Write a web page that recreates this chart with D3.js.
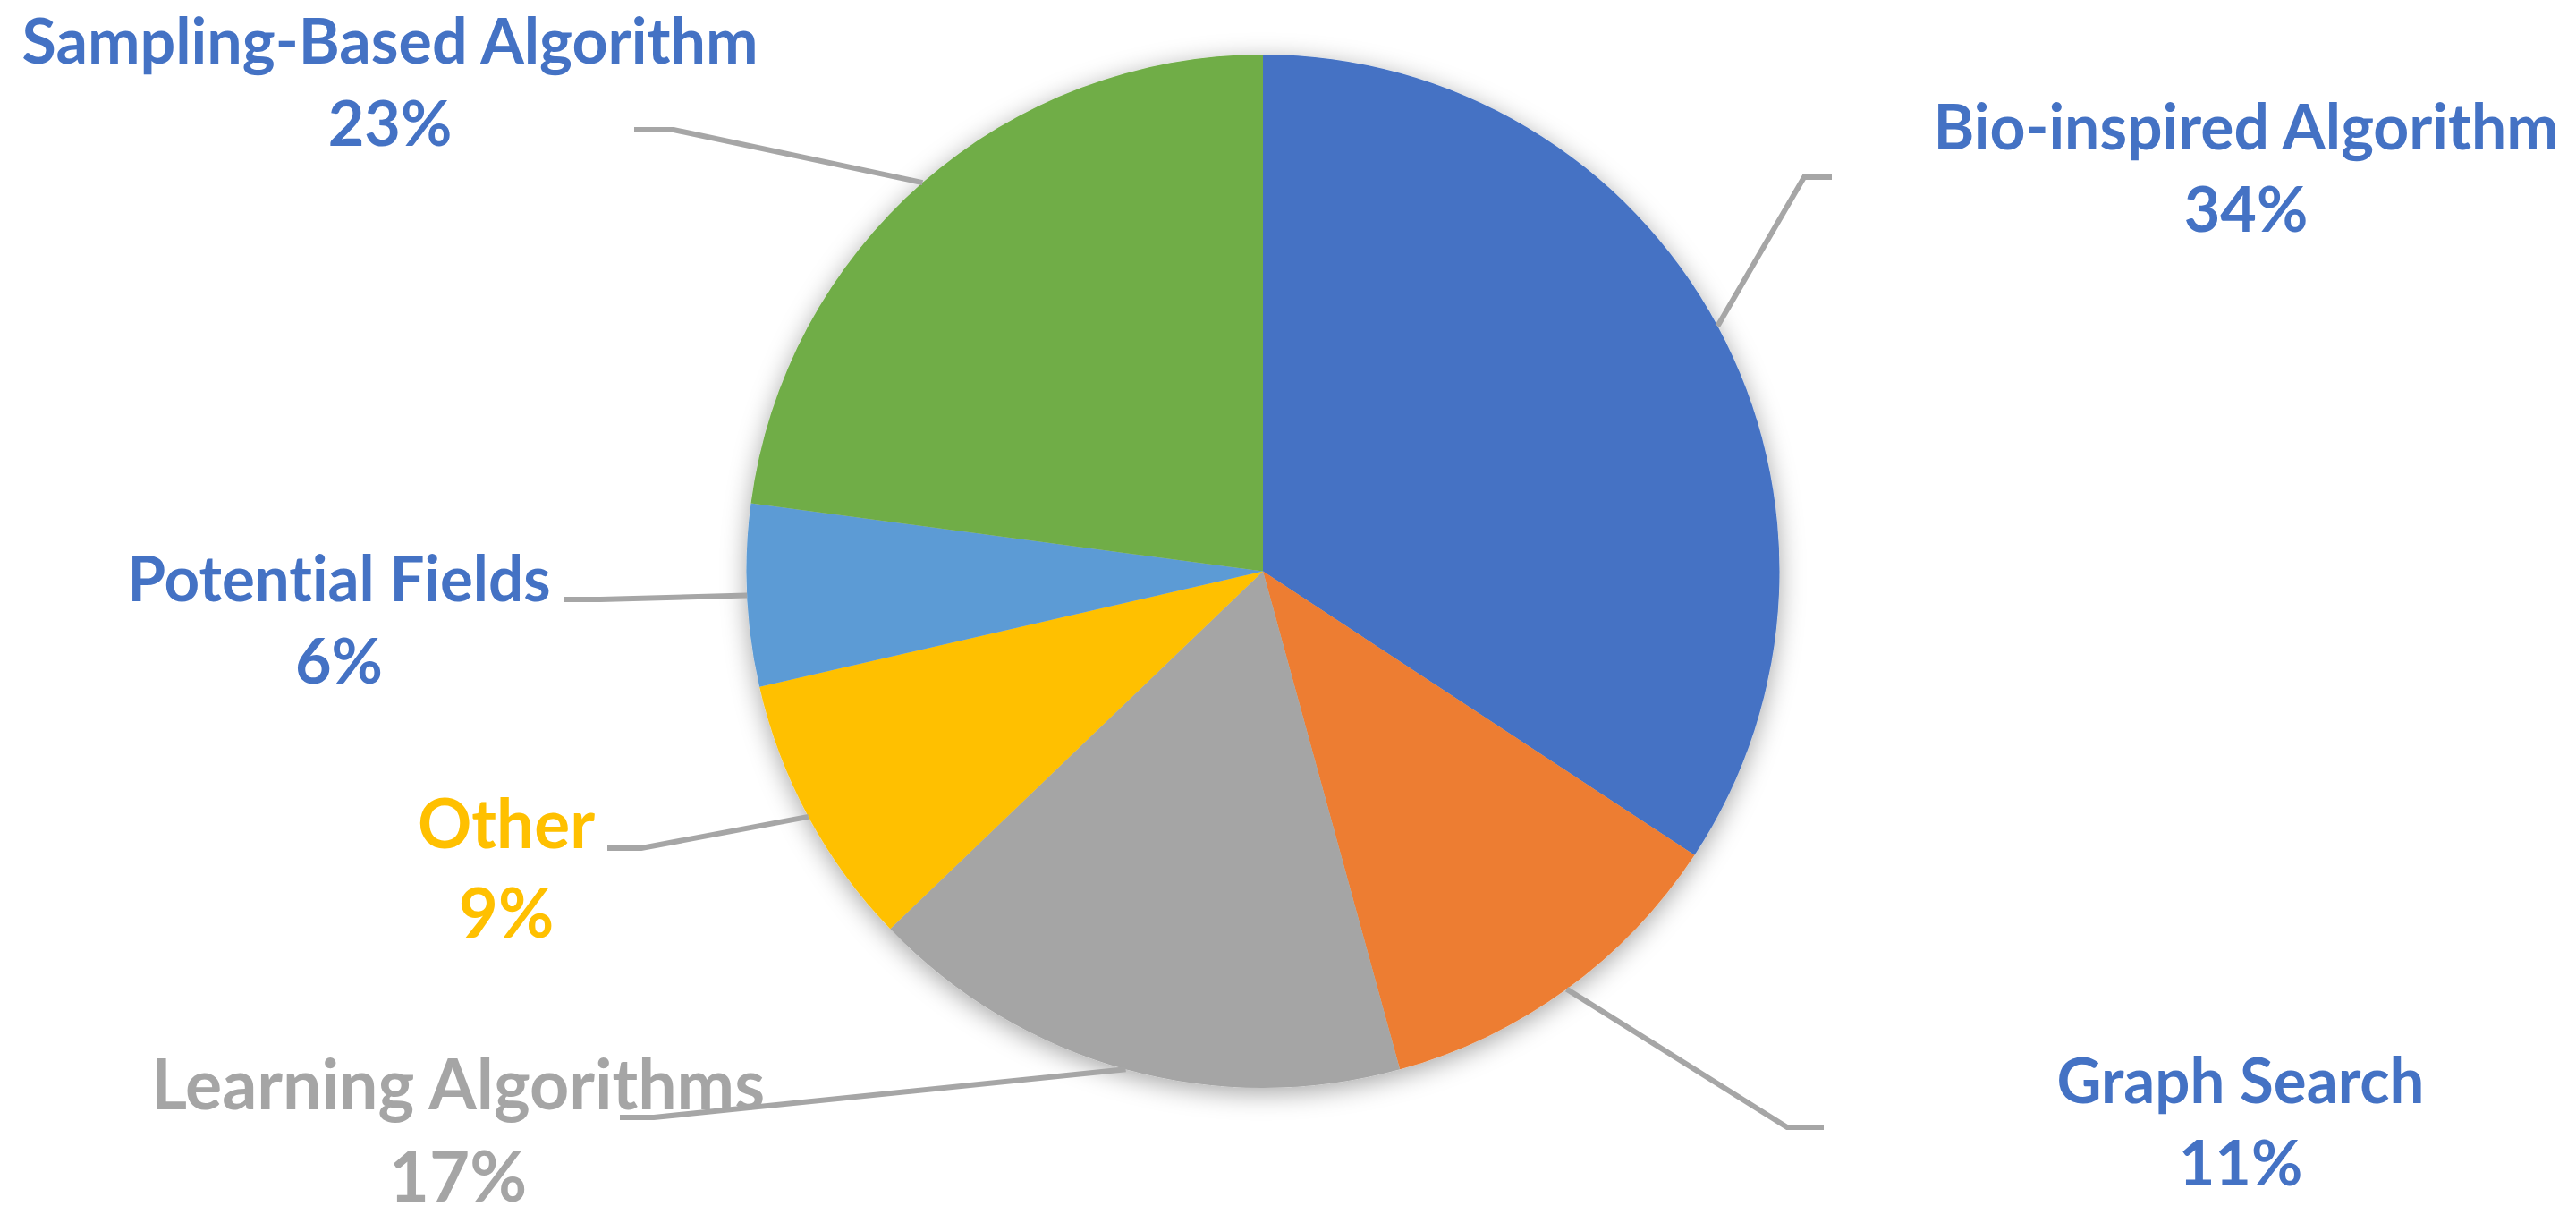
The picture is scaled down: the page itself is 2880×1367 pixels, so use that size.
<!DOCTYPE html>
<html>
<head>
<meta charset="utf-8">
<script src="https://cdn.jsdelivr.net/npm/d3@7"></script>
<style>
  html, body { margin: 0; padding: 0; background: #ffffff; }
  svg { display: block; }
  text { font-variant-ligatures: none; font-feature-settings: "liga" 0, "clig" 0; }
</style>
</head>
<body>
<svg id="chart" width="2880" height="1367"></svg>
<script>
// ---- data ----
const categories = ["Bio-inspired Algorithm", "Graph Search", "Learning Algorithms", "Other", "Potential Fields", "Sampling-Based Algorithm"];
const values = [34.26, 11.47, 17.10, 8.58, 5.69, 22.90];

// ---- styles ----
const sliceColors = ["#4472C4", "#ED7D31", "#A5A5A5", "#FFC000", "#5B9BD5", "#70AD47"];
const labelColors = ["#4472C4", "#4472C4", "#A5A5A5", "#FFC000", "#4472C4", "#4472C4"];
const labelFontSizes = [70, 70, 78, 76, 70, 70];

// ---- layout ----
const W = 2880, H = 1367;
const cx = 1412, cy = 638.5, R = 577.5;
const gapRatio = 1.315;
// label anchor: [centerX, firstBaselineY]
const labelAnchors = [[2511, 167], [2505, 1233], [512, 1240], [566, 948], [379, 672], [436, 71]];
// target width of the name line (px)
const nameWidths = [699, 411, 686, 198, 473, 823];
// leader line horizontal segment: [xOuter, xElbow, y]
const leaderSegs = [[2048, 2017, 198], [2039, 1998, 1260], [693, 731, 1249], [679, 717, 948], [631, 671, 670], [709, 753, 145]];

const svg = d3.select("#chart");

const defs = svg.append("defs");
const f = defs.append("filter").attr("id", "shadow")
  .attr("x", "-20%").attr("y", "-20%").attr("width", "140%").attr("height", "140%");
f.append("feDropShadow")
  .attr("dx", 0).attr("dy", 6).attr("stdDeviation", 14)
  .attr("flood-color", "#000000").attr("flood-opacity", 0.35);

const total = d3.sum(values);
const fmtPct = d3.format(".0%");
const pie = d3.pie().sort(null).value(d => d)(values);
const arc = d3.arc().innerRadius(0).outerRadius(R);

const g = svg.append("g").attr("transform", `translate(${cx},${cy})`);
g.append("g").attr("filter", "url(#shadow)")
  .selectAll("path")
  .data(pie)
  .join("path")
  .attr("d", arc)
  .attr("fill", (d, i) => sliceColors[i]);

// leader lines
const leaders = svg.append("g");
pie.forEach((d, i) => {
  const mid = (d.startAngle + d.endAngle) / 2;
  const px = cx + R * Math.sin(mid);
  const py = cy - R * Math.cos(mid);
  const [xo, xe, y] = leaderSegs[i];
  leaders.append("polyline")
    .attr("points", `${xo},${y} ${xe},${y} ${px},${py}`)
    .attr("fill", "none")
    .attr("stroke", "#A6A6A6")
    .attr("stroke-width", 6)
    .attr("stroke-linejoin", "miter");
});

// labels
const labels = svg.append("g")
  .attr("font-family", "Lato, 'Open Sans', sans-serif")
  .attr("font-weight", "bold")
  .attr("text-anchor", "middle");
categories.forEach((c, i) => {
  const [x, y] = labelAnchors[i];
  const fs = labelFontSizes[i];
  const t = labels.append("text").attr("fill", labelColors[i]).attr("font-size", fs);
  t.append("tspan").attr("x", x).attr("y", y)
    .attr("textLength", nameWidths[i]).attr("lengthAdjust", "spacingAndGlyphs")
    .text(c);
  t.append("tspan").attr("x", x).attr("y", y + fs * gapRatio).text(fmtPct(values[i] / total));
});
</script>
</body>
</html>
